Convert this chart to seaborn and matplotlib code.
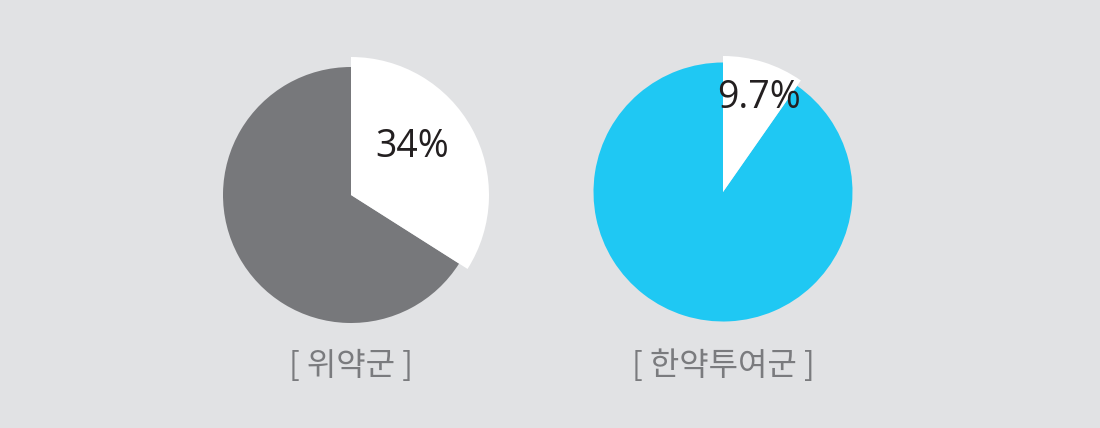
import seaborn as sns
import matplotlib.pyplot as plt

# --- dati ---
gruppi = ['위약군', '한약투여군']
percentuali = [34, 9.7]
etichette_pct = ['34%', '9.7%']
colori_pie = ['#77787b', '#1fc8f3']

sns.set_style('white')
plt.rcParams['font.family'] = ['Open Sans', 'Noto Sans CJK KR', 'DejaVu Sans']

sfondo = '#e1e2e4'
fig = plt.figure(figsize=(11, 4.28), dpi=100, facecolor=sfondo)
ax = fig.add_axes([0, 0, 1, 1])
ax.set_facecolor(sfondo)

# layout in pixel (y dal basso)
centri = [(351, 428 - 195), (723, 428 - 192)]
raggi = [128, 129.5]
raggi_bianco = [138, 136]
pos_testo = [(412, 428 - 147), (759, 428 - 98)]

for i, g in enumerate(gruppi):
    p = percentuali[i]
    wedges, _ = ax.pie([p, 100 - p], colors=['white', colori_pie[i]],
                       startangle=90, counterclock=False,
                       center=centri[i], radius=raggi[i], frame=True,
                       wedgeprops={'linewidth': 0, 'edgecolor': 'none'})
    wedges[0].set_radius(raggi_bianco[i])
    wedges[0].set_zorder(3)
    ax.text(pos_testo[i][0], pos_testo[i][1], etichette_pct[i], ha='center', va='center',
            fontsize=27, color='#231f20', zorder=5)
    ax.text(centri[i][0], 428 - 366, f'[ {g} ]', ha='center', va='center',
            fontsize=23, color='#7a7b7e', family=['Noto Sans CJK KR', 'DejaVu Sans'])

ax.set_xlim(0, 1100)
ax.set_ylim(0, 428)
ax.set_aspect('equal')
ax.axis('off')

plt.savefig('out.png', dpi=100, facecolor=sfondo)
